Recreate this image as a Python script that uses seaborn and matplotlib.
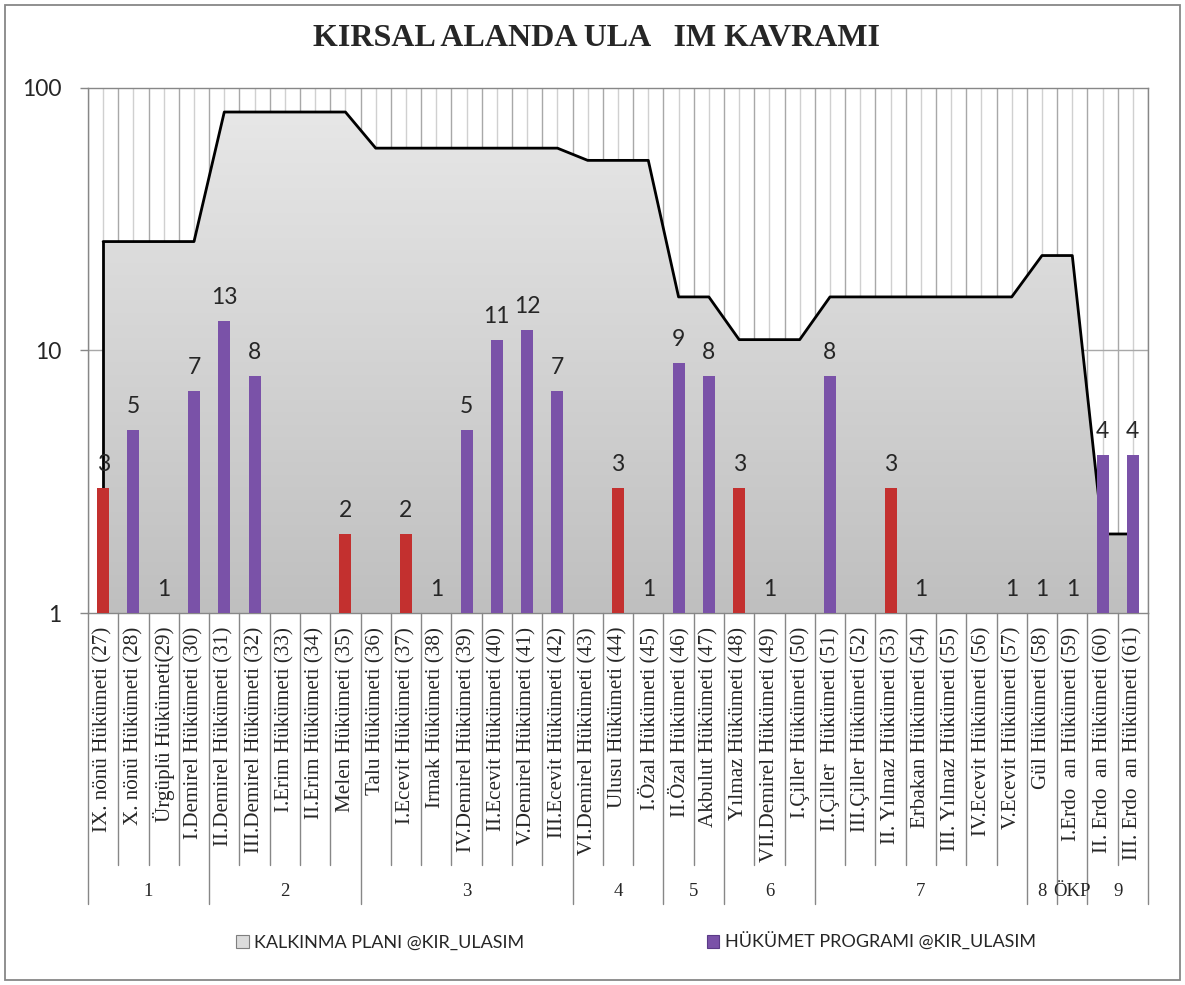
import numpy as np
import pandas as pd
import matplotlib.pyplot as plt
import seaborn as sns
from matplotlib.patches import Patch, Rectangle
from matplotlib.colors import LinearSegmentedColormap

sns.set_style("white")
plt.rcParams['font.family'] = ['Lato', 'DejaVu Sans']

# hükümetler (27-61)
governments = [
    "IX. nönü Hükümeti (27)", "X. nönü Hükümeti (28)", "Ürgüplü Hükümeti(29)",
    "I.Demirel Hükümeti (30)", "II.Demirel Hükümeti (31)", "III.Demirel Hükümeti (32)",
    "I.Erim Hükümeti (33)", "II.Erim Hükümeti (34)", "Melen Hükümeti (35)",
    "Talu Hükümeti (36)", "I.Ecevit Hükümeti (37)", "Irmak Hükümeti (38)",
    "IV.Demirel Hükümeti (39)", "II.Ecevit Hükümeti (40)", "V.Demirel Hükümeti (41)",
    "III.Ecevit Hükümeti (42)", "VI.Demirel Hükümeti (43)", "Ulusu Hükümeti (44)",
    "I.Özal Hükümeti (45)", "II.Özal Hükümeti (46)", "Akbulut Hükümeti (47)",
    "Yılmaz Hükümeti (48)", "VII.Demirel Hükümeti (49)", "I.Çiller Hükümeti (50)",
    "II.Çiller  Hükümeti (51)", "III.Çiller Hükümeti (52)", "II. Yılmaz Hükümeti (53)",
    "Erbakan Hükümeti (54)", "III. Yılmaz Hükümeti (55)", "IV.Ecevit Hükümeti (56)",
    "V.Ecevit Hükümeti (57)", "Gül Hükümeti (58)", "I.Erdo  an Hükümeti (59)",
    "II. Erdo  an Hükümeti (60)", "III. Erdo  an Hükümeti (61)",
]

# HÜKÜMET PROGRAMI @KIR_ULASIM
program_values = [3, 5, 1, 7, 13, 8, np.nan, np.nan, 2, np.nan, 2, 1, 5, 11, 12, 7,
                  np.nan, 3, 1, 9, 8, 3, 1, np.nan, 8, np.nan, 3, 1, np.nan, np.nan,
                  1, 1, 1, 4, 4]
bar_kind = ["r", "p", "p", "p", "p", "p", "p", "p", "r", "p", "r", "p", "p", "p", "p", "p",
            "p", "r", "p", "p", "p", "r", "p", "p", "p", "p", "r", "p", "p", "p",
            "p", "p", "p", "p", "p"]

# KALKINMA PLANI @KIR_ULASIM
plan_values = [26, 26, 26, 26, 81, 81, 81, 81, 81, 59, 59, 59, 59, 59, 59, 59,
               53, 53, 53, 16, 16, 11, 11, 11, 16, 16, 16, 16, 16, 16, 16,
               23, 23, 2, 2]

group_labels = ["1", "2", "3", "4", "5", "6", "7", "8", "ÖKP", "9"]
group_sizes = [4, 5, 7, 3, 2, 3, 7, 1, 1, 2]

title = "KIRSAL ALANDA ULA   IM KAVRAMI"
legend_labels = ["KALKINMA PLANI @KIR_ULASIM", "HÜKÜMET PROGRAMI @KIR_ULASIM"]

colors = {"r": "#c3302f", "p": "#7a52a8"}
serif = "Liberation Serif"
grey = "#878787"

df = pd.DataFrame({"hukumet": governments, "deger": program_values, "tur": bar_kind})
bars = df.dropna()

W, H = 1185, 985
fig = plt.figure(figsize=(W / 100, H / 100), dpi=100)
ax = fig.add_axes([88 / W, (H - 613) / H, 1060 / W, 525 / H])

sns.barplot(data=bars, x="hukumet", y="deger", hue="tur", order=governments,
            palette=colors, dodge=False, width=0.4, saturation=1, legend=False,
            edgecolor="none", zorder=3, ax=ax)

x = np.arange(len(governments))
plan = np.array(plan_values, dtype=float)

# area with vertical grey gradient
poly = ax.fill_between(x, 1, plan, facecolor="none", edgecolor="none", zorder=1)
grad = np.linspace(0, 1, 256).reshape(-1, 1)
cmap = LinearSegmentedColormap.from_list("g", ["#e9e9e9", "#bfbfbf"])
im = ax.imshow(grad, cmap=cmap, extent=(0, 1, 0, 1), transform=ax.transAxes,
               aspect="auto", zorder=1, interpolation="bilinear")
im.set_clip_path(poly.get_paths()[0], ax.transData)

ax.set_yscale("log")
ax.set_ylim(1, 100)
ax.set_xlim(-0.5, len(governments) - 0.5)

ax.plot(x, plan, color="black", lw=2, zorder=2)
ax.plot([0, 0], [1, plan[0]], color="black", lw=2, zorder=2)

# grid lines
ax.vlines(np.arange(len(governments) + 1) - 0.5, 1, 100, color="#a8a8a8", lw=1, zorder=0)
ax.vlines(x, 1, 100, color="#d0d0d0", lw=1, zorder=0)
ax.hlines([10], -0.5, len(governments) - 0.5, color="#a8a8a8", lw=1, zorder=0)

# value labels
for i, v in enumerate(program_values):
    if not np.isnan(v):
        ax.annotate(f"{v:g}", (i, v), xytext=(0, 12), textcoords="offset points",
                    ha="center", va="baseline", fontsize=16.5, zorder=5)

ax.set_yticks([1, 10, 100])
ax.set_yticklabels(["1", "10", "100"])
ax.minorticks_off()
ax.tick_params(axis="y", length=6, color=grey, width=1, pad=13, labelsize=16.5, left=True)
ax.tick_params(axis="x", length=0, pad=10, labelrotation=90)
for lab in ax.get_xticklabels():
    lab.set_fontfamily(serif)
    lab.set_fontsize(15.2)
ax.set_xlabel("")
ax.set_ylabel("")
for sp in ax.spines.values():
    sp.set_color(grey)
    sp.set_linewidth(1)

# category axis separators and group labels
trans = ax.get_xaxis_transform()
bounds = np.concatenate([[0], np.cumsum(group_sizes)])
for b in range(len(governments) + 1):
    low = -0.555 if b in bounds else -0.48
    ax.plot([b - 0.5, b - 0.5], [0, low], transform=trans, clip_on=False, color=grey, lw=1)
for lab, start, size in zip(group_labels, bounds[:-1], group_sizes):
    ax.text(start + size / 2 - 0.5, -0.53, lab, transform=trans, ha="center", va="center",
            fontsize=13.5, fontfamily=serif)

fig.text(596 / W, 1 - 38 / H, title, ha="center", va="center", fontsize=23,
         fontweight="bold", fontfamily=serif)

handles = [Patch(facecolor="#dcdcdc", edgecolor="#7f7f7f", lw=0.8),
           Patch(facecolor=colors["p"], edgecolor="#5b3b87", lw=0.8)]
fig.legend(handles, legend_labels, loc="center", bbox_to_anchor=(636 / W, 1 - 942 / H),
           ncol=2, frameon=False, fontsize=13, handlelength=0.7, handleheight=0.7,
           handletextpad=0.3, columnspacing=10.1)

fig.patches.append(Rectangle((5 / W, 5 / H), 1175 / W, 975 / H, transform=fig.transFigure,
                             fill=False, edgecolor=grey, lw=1.3))

fig.savefig("out.png", dpi=100)
